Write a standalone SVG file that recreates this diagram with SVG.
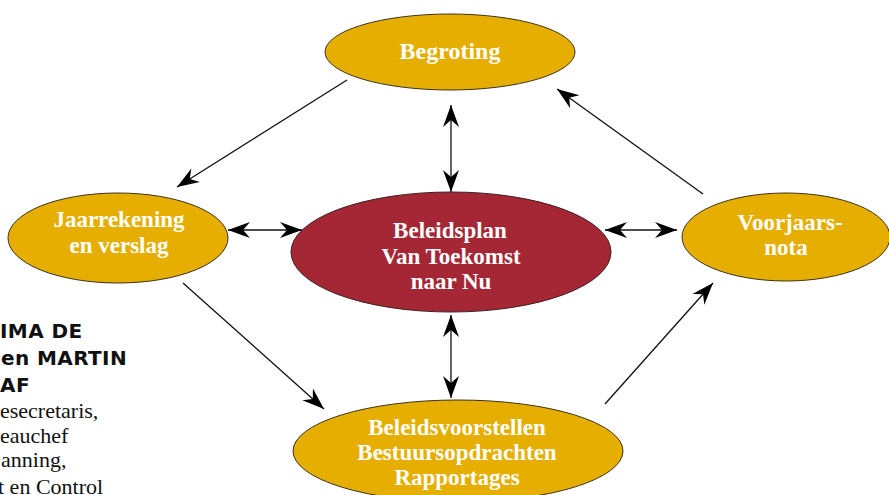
<svg xmlns="http://www.w3.org/2000/svg" width="889" height="495" viewBox="0 0 889 495">
<style>
.gold{fill:#E5AE00;stroke:#3b3320;stroke-width:1}
.red{fill:#A52735;stroke:#3b2020;stroke-width:1}
.lbl{font-family:"Liberation Serif","Times New Roman",serif;font-weight:bold;font-size:23px;fill:#ffffff;text-anchor:middle}
.con{stroke:#111;stroke-width:1.3;fill:none}
.side{font-family:"DejaVu Sans",sans-serif;font-weight:bold;font-size:20px;fill:#111;letter-spacing:0.4px}
.sider{font-family:"Liberation Serif","Times New Roman",serif;font-size:22px;fill:#111}
</style>
<defs>
<marker id="ah" viewBox="-23 -9 24 18" refX="0" refY="0" markerWidth="24" markerHeight="18" markerUnits="userSpaceOnUse" orient="auto-start-reverse">
<path d="M0,0 L-22,-8 L-15,0 L-22,8 Z" fill="#000"/>
</marker>
</defs>
<rect width="889" height="495" fill="#fff"/>
<g id="sidetext">
<text class="side" x="0" y="338">IMA DE</text>
<text class="side" x="1" y="365">en MARTIN</text>
<text class="side" x="0" y="392">AF</text>
<text class="sider" x="0" y="418">esecretaris,</text>
<text class="sider" x="0" y="443">eauchef</text>
<text class="sider" x="1" y="467">anning,</text>
<text class="sider" x="-2" y="494">t en Control</text>
</g>
<g id="connectors">
<line class="con" x1="347" y1="80" x2="177" y2="187" marker-end="url(#ah)"/>
<line class="con" x1="703" y1="194" x2="557" y2="89" marker-end="url(#ah)"/>
<line class="con" x1="183" y1="283" x2="324" y2="409" marker-end="url(#ah)"/>
<line class="con" x1="605" y1="404" x2="713" y2="283" marker-end="url(#ah)"/>
<line class="con" x1="451" y1="105" x2="451" y2="192" marker-start="url(#ah)" marker-end="url(#ah)"/>
<line class="con" x1="451" y1="315" x2="451" y2="398" marker-start="url(#ah)" marker-end="url(#ah)"/>
<line class="con" x1="228" y1="230" x2="302" y2="230" marker-start="url(#ah)" marker-end="url(#ah)"/>
<line class="con" x1="605" y1="230" x2="677" y2="230" marker-start="url(#ah)" marker-end="url(#ah)"/>
</g>
<g id="begroting">
<ellipse class="gold" cx="450" cy="52" rx="125" ry="38"/>
<text class="lbl" x="450" y="59" style="font-size:24px">Begroting</text>
</g>
<g id="beleidsplan">
<ellipse class="red" cx="451" cy="252" rx="160" ry="60"/>
<text class="lbl" x="450" y="238">Beleidsplan</text>
<text class="lbl" x="451" y="264">Van Toekomst</text>
<text class="lbl" x="451" y="289">naar Nu</text>
</g>
<g id="jaarrekening">
<ellipse class="gold" cx="118" cy="238" rx="110" ry="45"/>
<text class="lbl" x="119" y="227">Jaarrekening</text>
<text class="lbl" x="119" y="253">en verslag</text>
</g>
<g id="voorjaarsnota">
<ellipse class="gold" cx="786" cy="237" rx="104" ry="44"/>
<text class="lbl" x="790" y="230">Voorjaars-</text>
<text class="lbl" x="786" y="255">nota</text>
</g>
<g id="beleidsvoorstellen">
<ellipse class="gold" cx="458" cy="451" rx="165" ry="51"/>
<text class="lbl" x="457" y="435">Beleidsvoorstellen</text>
<text class="lbl" x="457" y="460">Bestuursopdrachten</text>
<text class="lbl" x="457" y="485">Rapportages</text>
</g>
</svg>
